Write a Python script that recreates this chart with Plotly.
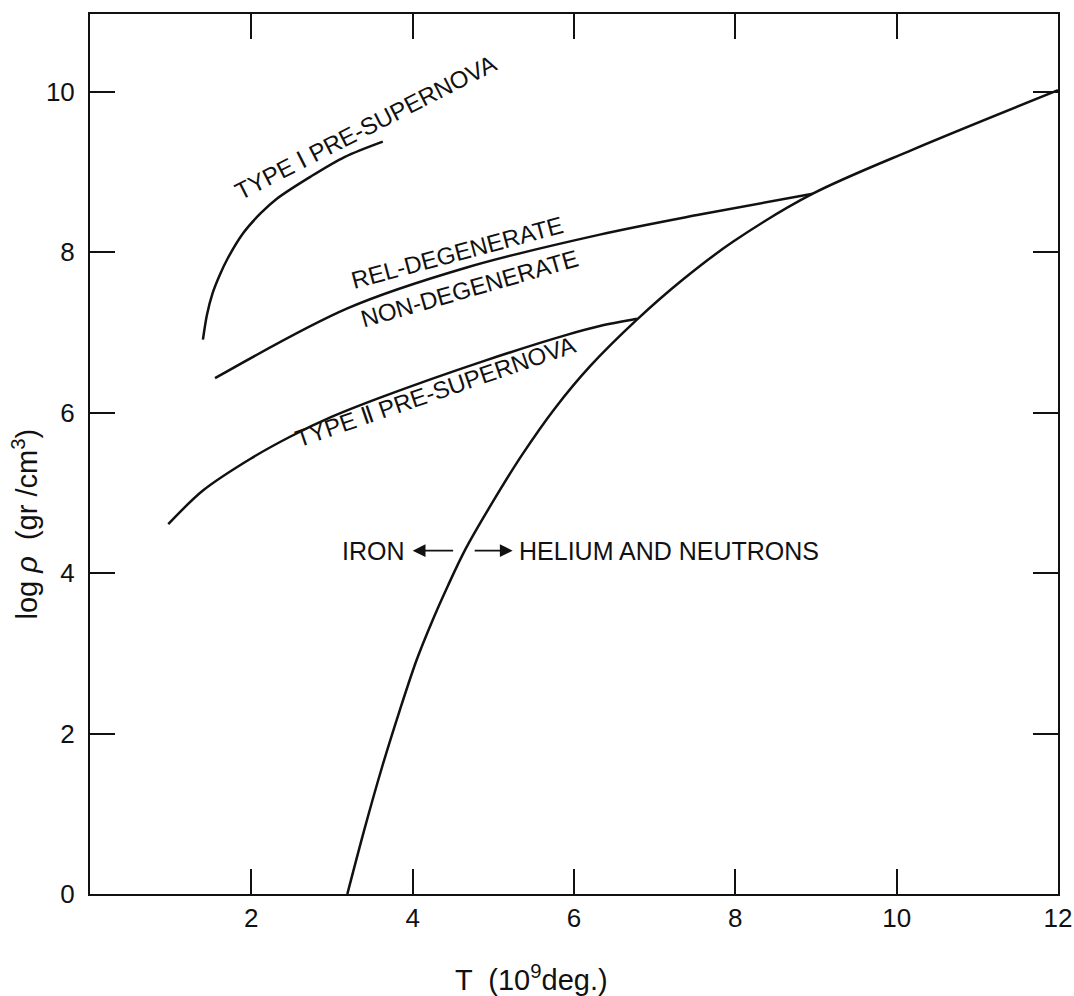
import plotly.graph_objects as go

# ---- data (T in 1e9 K, log rho in g/cm^3) ----
iron_T = [3.19, 3.40, 3.62, 3.84, 4.05, 4.25, 4.44, 4.65, 5.00, 5.36, 5.76, 6.20, 6.78, 7.35, 7.97, 8.96, 10.20, 12.00]
iron_rho = [0.00, 0.80, 1.58, 2.29, 2.92, 3.42, 3.85, 4.29, 4.90, 5.48, 6.05, 6.58, 7.16, 7.66, 8.13, 8.73, 9.28, 10.02]

degen_T = [1.55, 3.19, 4.67, 6.32, 7.56, 8.96]
degen_rho = [6.43, 7.30, 7.81, 8.22, 8.47, 8.73]

type2_T = [0.97, 1.40, 1.98, 2.48, 3.00, 3.63, 4.87, 5.91, 6.32, 6.78]
type2_rho = [4.61, 5.03, 5.42, 5.70, 5.95, 6.20, 6.64, 6.97, 7.08, 7.17]

type1_T = [1.40, 1.45, 1.52, 1.61, 1.70, 1.90, 2.11, 2.32, 2.73, 3.16, 3.63]
type1_rho = [6.91, 7.22, 7.49, 7.72, 7.91, 8.24, 8.48, 8.67, 8.94, 9.19, 9.38]

x_ticks = [2, 4, 6, 8, 10, 12]
y_ticks = [0, 2, 4, 6, 8, 10]

FONT = "Liberation Sans, Arial, DejaVu Sans, sans-serif"
INK = "#111111"

fig = go.Figure()
for tx, ry in [(iron_T, iron_rho), (degen_T, degen_rho), (type2_T, type2_rho), (type1_T, type1_rho)]:
    fig.add_trace(go.Scatter(x=tx, y=ry, mode="lines",
                             line=dict(color=INK, width=2.5, shape="spline", smoothing=0.9),
                             showlegend=False, hoverinfo="skip"))

labels = [
    ("TYPE Ⅰ PRE-SUPERNOVA", 3.41, 9.55, -27),
    ("REL-DEGENERATE", 4.55, 8.00, -15),
    ("NON-DEGENERATE", 4.70, 7.55, -16),
    ("TYPE Ⅱ PRE-SUPERNOVA", 4.28, 6.27, -19),
]
annotations = []
for txt, x, y, ang in labels:
    annotations.append(dict(x=x, y=y, xref="x", yref="y", text=txt, showarrow=False,
                            textangle=ang, font=dict(family=FONT, size=24, color=INK)))

annotations.append(dict(x=3.93, y=4.28, xref="x", yref="y", text="IRON", showarrow=False,
                        xanchor="right", font=dict(family=FONT, size=25, color=INK)))
annotations.append(dict(x=5.29, y=4.28, xref="x", yref="y", text="HELIUM AND NEUTRONS", showarrow=False,
                        xanchor="left", font=dict(family=FONT, size=25, color=INK)))
# arrows
annotations.append(dict(x=4.00, y=4.28, ax=4.52, ay=4.28, xref="x", yref="y", axref="x", ayref="y",
                        text="", showarrow=True, arrowhead=2, arrowsize=1.6, arrowwidth=1.6, arrowcolor=INK))
annotations.append(dict(x=5.24, y=4.28, ax=4.75, ay=4.28, xref="x", yref="y", axref="x", ayref="y",
                        text="", showarrow=True, arrowhead=2, arrowsize=1.6, arrowwidth=1.6, arrowcolor=INK))

# axis titles
annotations.append(dict(x=0.4556, y=-0.0955, xref="paper", yref="paper", text="T  (10<sup>9</sup>deg.)",
                        xanchor="center", yanchor="middle",
                        showarrow=False, font=dict(family=FONT, size=29, color=INK)))
annotations.append(dict(x=-0.067, y=0.42, xref="paper", yref="paper", text="log <i>ρ</i>  (gr /cm<sup>3</sup>)",
                        xanchor="center", yanchor="middle",
                        showarrow=False, textangle=-90, font=dict(family=FONT, size=29, color=INK)))

axis_common = dict(ticks="inside", ticklen=25, tickwidth=1.8, tickcolor=INK,
                   showline=True, linecolor=INK, linewidth=2, mirror="ticks",
                   showgrid=False, zeroline=False, automargin=False,
                   tickfont=dict(family=FONT, size=26, color=INK))

fig.update_layout(
    width=1074, height=996,
    margin=dict(l=90, r=16, t=14, b=102),
    paper_bgcolor="white", plot_bgcolor="white",
    annotations=annotations,
    xaxis=dict(range=[0, 12], tickvals=x_ticks, ticktext=[str(v) for v in x_ticks],
               ticklabelstandoff=0, **axis_common),
    yaxis=dict(range=[0, 10.97], tickvals=y_ticks, ticktext=[str(v) for v in y_ticks],
               ticklabelstandoff=8, **axis_common),
)

# remove the default page margin so the figure fills the window exactly; hide the mode bar
fig.write_html("out.html",
               config={"displayModeBar": False},
               post_script="document.body.style.margin='0';document.body.style.overflow='hidden';")
